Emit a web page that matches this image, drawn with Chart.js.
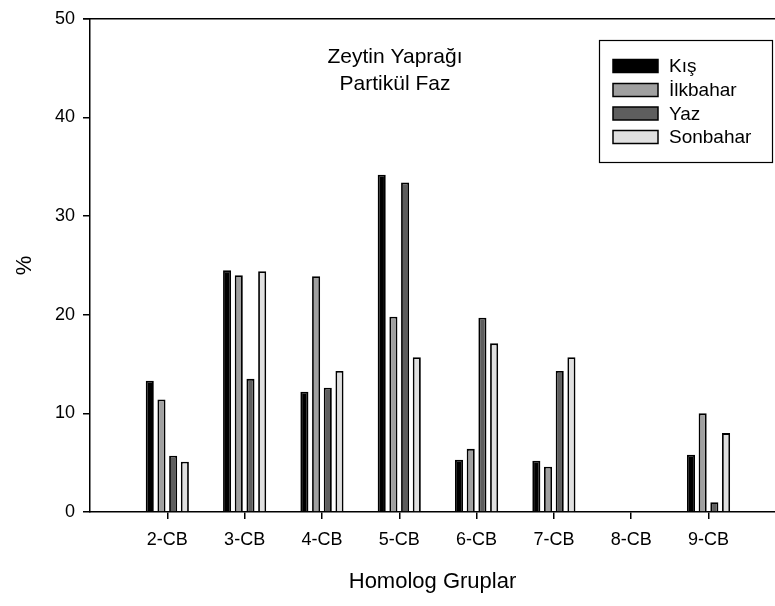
<!DOCTYPE html>
<html>
<head>
<meta charset="utf-8">
<script src="https://cdn.jsdelivr.net/npm/chart.js@4/dist/chart.umd.min.js"></script>
<style>
  html,body{margin:0;padding:0;background:#fff;}
  #wrap{width:775px;height:606px;position:relative;}
</style>
</head>
<body>
<div id="wrap"><canvas id="c" width="775" height="606"></canvas></div>
<script>
// grupos homólogos (x=2..9) y porcentajes por estación
const grupos = ['2-CB','3-CB','4-CB','5-CB','6-CB','7-CB','8-CB','9-CB'];
const posX = [2,3,4,5,6,7,8,9];
const kis      = [13.3, 24.5, 12.2, 34.2,  5.3,  5.2, 0,  5.8];
const ilkbahar = [11.4, 24.0, 23.9, 19.8,  6.4,  4.6, 0, 10.0];
const yaz      = [ 5.7, 13.5, 12.6, 33.4, 19.7, 14.3, 0,  1.0];
const sonbahar = [ 5.1, 24.4, 14.3, 15.7, 17.1, 15.7, 0,  8.0];
const yTicks = [0,10,20,30,40,50];

const seriesNames = ['Kış','İlkbahar','Yaz','Sonbahar'];
const fills = ['#000000','#a0a0a0','#5e5e5e','#e0e0e0'];
const FONT = 'Liberation Sans, Arial, sans-serif';

function pts(arr){ return arr.map((v,i)=>({x:posX[i],y:v})); }

const datasets = [kis,ilkbahar,yaz,sonbahar].map((arr,i)=>({
  label: seriesNames[i],
  data: pts(arr),
  backgroundColor: fills[i],
  borderColor: '#000',
  borderWidth: 1.8,
  borderSkipped: 'bottom',
  categoryPercentage: 0.605,
  barPercentage: 0.69
}));

// título interno + leyenda en recuadro + línea superior
const decor = {
  id:'decor',
  afterDraw(chart){
    const ctx = chart.ctx, a = chart.chartArea;
    ctx.save();
    ctx.strokeStyle='#000'; ctx.lineWidth=1.5;
    ctx.beginPath(); ctx.moveTo(83,a.top); ctx.lineTo(775,a.top); ctx.stroke();
    // texto del título
    ctx.fillStyle='#000';
    ctx.font='21px '+FONT;
    ctx.textAlign='center'; ctx.textBaseline='middle';
    ctx.fillText('Zeytin Yaprağı',395,57);
    ctx.fillText('Partikül Faz',395,84);
    // leyenda
    ctx.lineWidth=1.2;
    ctx.strokeRect(599.5,40.5,173,122);
    ctx.font='19px '+FONT; ctx.textAlign='left';
    const rows=[66,90,113.5,137];
    rows.forEach((y,i)=>{
      ctx.fillStyle=fills[i];
      ctx.fillRect(613,y-6.5,45,13);
      ctx.strokeStyle='#000'; ctx.lineWidth=1.5;
      ctx.strokeRect(613,y-6.5,45,13);
      ctx.fillStyle='#000';
      ctx.fillText(seriesNames[i],669,y+1);
    });
    ctx.restore();
  }
};

new Chart(document.getElementById('c').getContext('2d'),{
  type:'bar',
  data:{datasets},
  options:{
    responsive:false,animation:false,
    layout:{padding:{top:12,right:0,left:0,bottom:0}},
    plugins:{legend:{display:false},tooltip:{enabled:false}},
    scales:{
      x:{type:'linear',min:1,max:9.86,offset:false,
        grid:{display:true,offset:false,drawOnChartArea:false,drawTicks:true,tickLength:7,color:'#000',lineWidth:1.5},
        border:{display:true,color:'#000',width:1.5},
        afterBuildTicks:s=>{s.ticks=posX.map(v=>({value:v}));},
        ticks:{color:'#000',font:{family:FONT,size:18},padding:10,maxRotation:0,autoSkip:false,
          callback:v=>grupos[posX.indexOf(v)]||''},
        title:{display:true,text:'Homolog Gruplar',color:'#000',font:{family:FONT,size:22},padding:{top:0,bottom:11}},
        afterFit:s=>{s.height=94;}
      },
      y:{min:0,max:50,
        grid:{display:true,drawOnChartArea:false,drawTicks:true,tickLength:7,color:'#000',lineWidth:1.5},
        border:{display:true,color:'#000',width:1.5},
        afterBuildTicks:s=>{s.ticks=yTicks.map(v=>({value:v}));},
        ticks:{color:'#000',font:{family:FONT,size:18},padding:8},
        title:{display:true,text:'%',color:'#000',font:{family:FONT,size:22},padding:{top:12,bottom:0}},
        afterFit:s=>{s.width=90;}
      }
    }
  },
  plugins:[decor]
});
</script>
</body>
</html>
